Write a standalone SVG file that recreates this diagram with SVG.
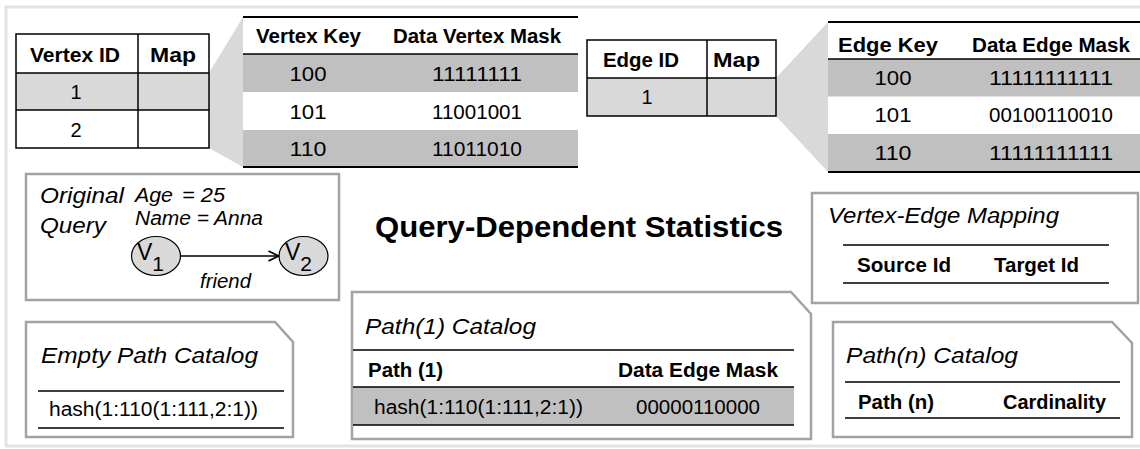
<svg xmlns="http://www.w3.org/2000/svg" width="1140" height="449" viewBox="0 0 1140 449">
<style>
text{font-family:"Liberation Sans",Arial,Helvetica,sans-serif;fill:#000}
.b{font-weight:bold;font-size:19.5px}
.n{font-size:20px}
.m{text-anchor:middle}
.i{font-style:italic}
.box{fill:#fff;stroke:#a3a3a3;stroke-width:2.5}
.tl{stroke:#000;stroke-width:2;fill:none}
.tl1{stroke:#000;stroke-width:1.5;fill:none}
.dk{fill:#c0c0c0}
.lt{fill:#d9d9d9}
</style>
<defs>
<marker id="chev" viewBox="0 0 12 12" refX="11" refY="6" markerWidth="12" markerHeight="12" markerUnits="userSpaceOnUse" orient="auto">
<path d="M1,1 L11,6 L1,11" fill="none" stroke="#000" stroke-width="1.6"/>
</marker>
</defs>
<rect width="1140" height="449" fill="#fff"/>
<path d="M1140,7 H6 V446 H1140" fill="none" stroke="#e3e3e3" stroke-width="3"/>

<g id="vertex-id-table">
<polygon class="lt" points="209,73 243,17 243,167 209,148"/>
<rect x="16" y="73" width="193" height="37" class="lt"/>
<rect x="16" y="34" width="193" height="114" class="tl1"/>
<path d="M16,73 H209 M16,110 H209 M138,34 V148" class="tl1"/>
<text class="b" x="30" y="62" textLength="90" lengthAdjust="spacingAndGlyphs">Vertex ID</text>
<text class="b" x="150" y="62" textLength="46" lengthAdjust="spacingAndGlyphs">Map</text>
<text class="n m" x="76" y="99">1</text>
<text class="n m" x="76" y="137">2</text>
</g>

<g id="vertex-key-table">
<rect x="243" y="54" width="335" height="38" class="dk"/>
<rect x="243" y="130" width="335" height="37" class="dk"/>
<path d="M243,17 H578 M243,167 H578" class="tl"/>
<path d="M243,54 H578" class="tl1"/>
<text class="b" x="256" y="43" textLength="105" lengthAdjust="spacingAndGlyphs">Vertex Key</text>
<text class="b" x="393" y="43" textLength="168" lengthAdjust="spacingAndGlyphs">Data Vertex Mask</text>
<text class="n m" x="308" y="81" textLength="37" lengthAdjust="spacingAndGlyphs">100</text>
<text class="n m" x="308" y="119" textLength="37" lengthAdjust="spacingAndGlyphs">101</text>
<text class="n m" x="308" y="156" textLength="37" lengthAdjust="spacingAndGlyphs">110</text>
<text class="n m" x="477" y="81" textLength="90" lengthAdjust="spacingAndGlyphs">11111111</text>
<text class="n m" x="477" y="119" textLength="90" lengthAdjust="spacingAndGlyphs">11001001</text>
<text class="n m" x="477" y="156" textLength="90" lengthAdjust="spacingAndGlyphs">11011010</text>
</g>

<g id="edge-id-table">
<polygon class="lt" points="776,78 828,22 828,172 776,116"/>
<rect x="587" y="78" width="189" height="38" class="lt"/>
<rect x="587" y="40" width="189" height="76" class="tl1"/>
<path d="M587,78 H776 M707,40 V116" class="tl1"/>
<text class="b" x="603" y="67" textLength="76" lengthAdjust="spacingAndGlyphs">Edge ID</text>
<text class="b" x="713" y="67" textLength="47" lengthAdjust="spacingAndGlyphs">Map</text>
<text class="n m" x="647" y="104">1</text>
</g>

<g id="edge-key-table">
<rect x="828" y="59" width="312" height="37.5" class="dk"/>
<rect x="828" y="134" width="312" height="38" class="dk"/>
<path d="M828,22 H1140 M828,172 H1140" class="tl"/>
<path d="M828,59 H1140" class="tl1"/>
<text class="b" x="838" y="52" textLength="100" lengthAdjust="spacingAndGlyphs">Edge Key</text>
<text class="b" x="972" y="52" textLength="158" lengthAdjust="spacingAndGlyphs">Data Edge Mask</text>
<text class="n m" x="893" y="85" textLength="37" lengthAdjust="spacingAndGlyphs">100</text>
<text class="n m" x="893" y="122" textLength="37" lengthAdjust="spacingAndGlyphs">101</text>
<text class="n m" x="893" y="160" textLength="37" lengthAdjust="spacingAndGlyphs">110</text>
<text class="n m" x="1051" y="85" textLength="124" lengthAdjust="spacingAndGlyphs">11111111111</text>
<text class="n m" x="1051" y="122" textLength="124" lengthAdjust="spacingAndGlyphs">00100110010</text>
<text class="n m" x="1051" y="160" textLength="124" lengthAdjust="spacingAndGlyphs">11111111111</text>
</g>

<g id="original-query">
<rect x="26" y="174" width="313" height="126" class="box"/>
<text class="i" x="40" y="203" font-size="22.5" textLength="84" lengthAdjust="spacingAndGlyphs">Original</text>
<text class="i" x="40" y="233" font-size="22.5" textLength="66" lengthAdjust="spacingAndGlyphs">Query</text>
<text class="i" x="135" y="202" font-size="19.5" textLength="38" lengthAdjust="spacingAndGlyphs">Age</text>
<text class="i" x="182" y="202" font-size="19.5" textLength="43" lengthAdjust="spacingAndGlyphs">= 25</text>
<text class="i" x="135" y="225" font-size="19.5" textLength="128" lengthAdjust="spacingAndGlyphs">Name = Anna</text>
<text class="i" x="200" y="288" font-size="19.5" textLength="51" lengthAdjust="spacingAndGlyphs">friend</text>
</g>

<g id="v1">
<ellipse cx="156" cy="256" rx="24.5" ry="19.5" fill="#d9d9d9" stroke="#000" stroke-width="1.2"/>
<text x="137" y="260" font-size="23">V<tspan font-size="21" dy="11">1</tspan></text>
</g>
<g id="v2">
<ellipse cx="303.5" cy="256" rx="24.5" ry="19.5" fill="#d9d9d9" stroke="#000" stroke-width="1.2"/>
<text x="285" y="260" font-size="23">V<tspan font-size="21" dy="11">2</tspan></text>
</g>

<g id="connectors">
<line x1="181" y1="256" x2="278.5" y2="256" stroke="#000" stroke-width="1.6" marker-end="url(#chev)"/>
</g>

<g id="title">
<text x="375" y="237" font-size="30" font-weight="bold" textLength="408" lengthAdjust="spacingAndGlyphs">Query-Dependent Statistics</text>
</g>

<g id="vertex-edge-mapping">
<rect x="812" y="193" width="326" height="110" class="box"/>
<text class="i" x="828" y="223" font-size="22" textLength="231" lengthAdjust="spacingAndGlyphs">Vertex-Edge Mapping</text>
<path d="M843,245 H1109 M843,283 H1109" class="tl1"/>
<text class="b" x="857" y="272" textLength="94" lengthAdjust="spacingAndGlyphs">Source Id</text>
<text class="b" x="994" y="272" textLength="85" lengthAdjust="spacingAndGlyphs">Target Id</text>
</g>

<g id="empty-path-catalog">
<path d="M26,322 H275 L293,342 V437 H26 Z" class="box"/>
<text class="i" x="41" y="363" font-size="22" textLength="217" lengthAdjust="spacingAndGlyphs">Empty Path Catalog</text>
<path d="M38,391 H284 M38,428 H284" class="tl1"/>
<text class="n" x="49" y="416" textLength="209" lengthAdjust="spacingAndGlyphs">hash(1:110(1:111,2:1))</text>
</g>

<g id="path1-catalog">
<path d="M352,292 H791 L811,314 V439 H352 Z" class="box"/>
<text class="i" x="365" y="334" font-size="22" textLength="171" lengthAdjust="spacingAndGlyphs">Path(1) Catalog</text>
<rect x="353" y="387" width="441" height="38" class="dk"/>
<path d="M353,350 H794 M353,387 H794 M353,425 H794" class="tl1"/>
<text class="b" x="368" y="377" textLength="75" lengthAdjust="spacingAndGlyphs">Path (1)</text>
<text class="b" x="618" y="377" textLength="160" lengthAdjust="spacingAndGlyphs">Data Edge Mask</text>
<text class="n" x="374" y="414" textLength="209" lengthAdjust="spacingAndGlyphs">hash(1:110(1:111,2:1))</text>
<text class="n" x="636" y="414" textLength="124" lengthAdjust="spacingAndGlyphs">00000110000</text>
</g>

<g id="pathn-catalog">
<path d="M833,322 H1112 L1132,343 V437 H833 Z" class="box"/>
<text class="i" x="846" y="363" font-size="22" textLength="172" lengthAdjust="spacingAndGlyphs">Path(n) Catalog</text>
<path d="M845,382 H1120 M845,418 H1120" class="tl1"/>
<text class="b" x="858" y="409" textLength="76" lengthAdjust="spacingAndGlyphs">Path (n)</text>
<text class="b" x="1003" y="409" textLength="103" lengthAdjust="spacingAndGlyphs">Cardinality</text>
</g>
</svg>
